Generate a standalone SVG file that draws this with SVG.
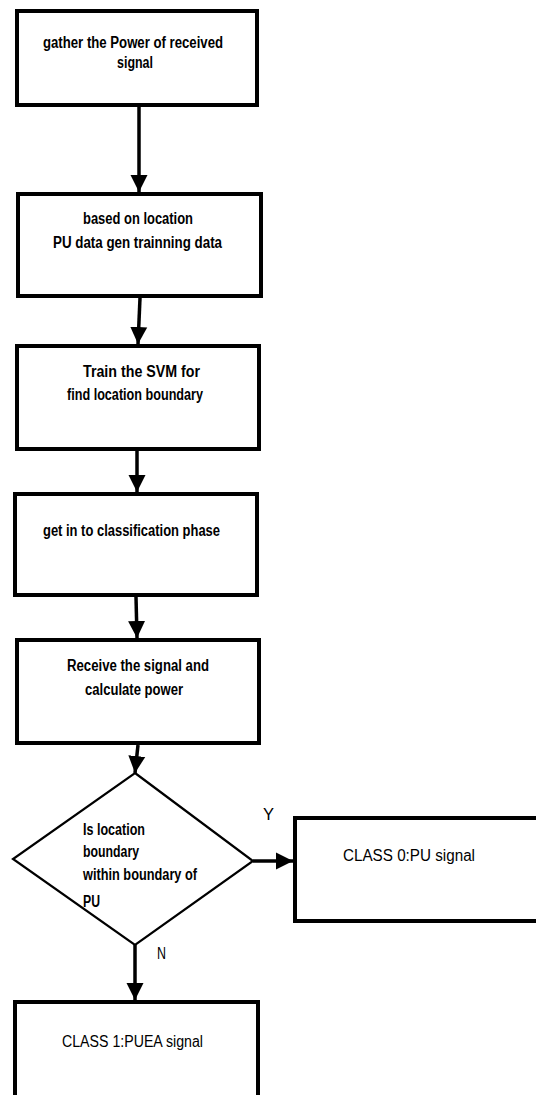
<svg xmlns="http://www.w3.org/2000/svg" width="536" height="1095" viewBox="0 0 536 1095">
<style>
.box{fill:#fff;stroke:#000;stroke-width:4}
.dia{fill:#fff;stroke:#000;stroke-width:2.2}
.t{font-family:"Liberation Sans",Arial,sans-serif;font-size:16px;font-weight:bold;fill:#000}
.tn{font-family:"Liberation Sans",Arial,sans-serif;font-size:16px;fill:#000}
.c{text-anchor:middle}
.conn{stroke:#000;stroke-width:3.5;fill:none;marker-end:url(#ah)}
</style>
<defs>
<marker id="ah" markerUnits="userSpaceOnUse" markerWidth="18" markerHeight="18" refX="17" refY="8.5" orient="auto" viewBox="0 0 18 17">
<path d="M0,0 L17,8.5 L0,17 Z" fill="#000"/>
</marker>
</defs>
<rect width="536" height="1095" fill="#fff"/>
<g id="connectors">
<path class="conn" d="M139,107 L139,192"/>
<path class="conn" d="M140,298 L138,344"/>
<path class="conn" d="M137,451 L137,492"/>
<path class="conn" d="M136,597 L137,638"/>
<path class="conn" d="M138,745 L135,773"/>
<path class="conn" d="M253,861 L293,861"/>
<path class="conn" d="M135,945 L135,1000"/>
<text class="tn" x="263" y="820" textLength="11" lengthAdjust="spacingAndGlyphs">Y</text>
<text class="tn" x="157" y="959" textLength="9" lengthAdjust="spacingAndGlyphs">N</text>
</g>
<g id="n1">
<rect class="box" x="17" y="11" width="240" height="94"/>
<text class="t" x="43" y="48" textLength="180" lengthAdjust="spacingAndGlyphs">gather the Power of received</text>
<text class="t" x="117" y="68" textLength="36" lengthAdjust="spacingAndGlyphs">signal</text>
</g>
<g id="n2">
<rect class="box" x="18" y="194" width="243" height="102"/>
<text class="t" x="83" y="224" textLength="110" lengthAdjust="spacingAndGlyphs">based on location</text>
<text class="t" x="53" y="248" textLength="169" lengthAdjust="spacingAndGlyphs">PU data gen trainning data</text>
</g>
<g id="n3">
<rect class="box" x="17" y="346" width="242" height="103"/>
<text class="t" x="83" y="377" textLength="117" lengthAdjust="spacingAndGlyphs">Train the SVM for</text>
<text class="t" x="67" y="400" textLength="136" lengthAdjust="spacingAndGlyphs">find location boundary</text>
</g>
<g id="n4">
<rect class="box" x="15" y="494" width="242" height="101"/>
<text class="t" x="43" y="536" textLength="177" lengthAdjust="spacingAndGlyphs">get in to classification phase</text>
</g>
<g id="n5">
<rect class="box" x="17" y="640" width="242" height="103"/>
<text class="t" x="67" y="671" textLength="142" lengthAdjust="spacingAndGlyphs">Receive the signal and</text>
<text class="t" x="85" y="695" textLength="98" lengthAdjust="spacingAndGlyphs">calculate power</text>
</g>
<g id="n6">
<polygon class="dia" points="135,773 253,861 135,945 13,859"/>
<text class="t" x="83" y="835" textLength="62" lengthAdjust="spacingAndGlyphs">Is location</text>
<text class="t" x="83" y="857" textLength="56" lengthAdjust="spacingAndGlyphs">boundary</text>
<text class="t" x="83" y="880" textLength="114" lengthAdjust="spacingAndGlyphs">within boundary of</text>
<text class="t" x="83" y="907" textLength="17" lengthAdjust="spacingAndGlyphs">PU</text>
</g>
<g id="n7">
<rect class="box" x="295" y="818" width="250" height="103"/>
<text class="tn" x="343" y="861" textLength="132" lengthAdjust="spacingAndGlyphs">CLASS 0:PU signal</text>
</g>
<g id="n8">
<rect class="box" x="15" y="1002" width="243" height="110"/>
<text class="tn" x="62" y="1047" textLength="141" lengthAdjust="spacingAndGlyphs">CLASS 1:PUEA signal</text>
</g>
</svg>
